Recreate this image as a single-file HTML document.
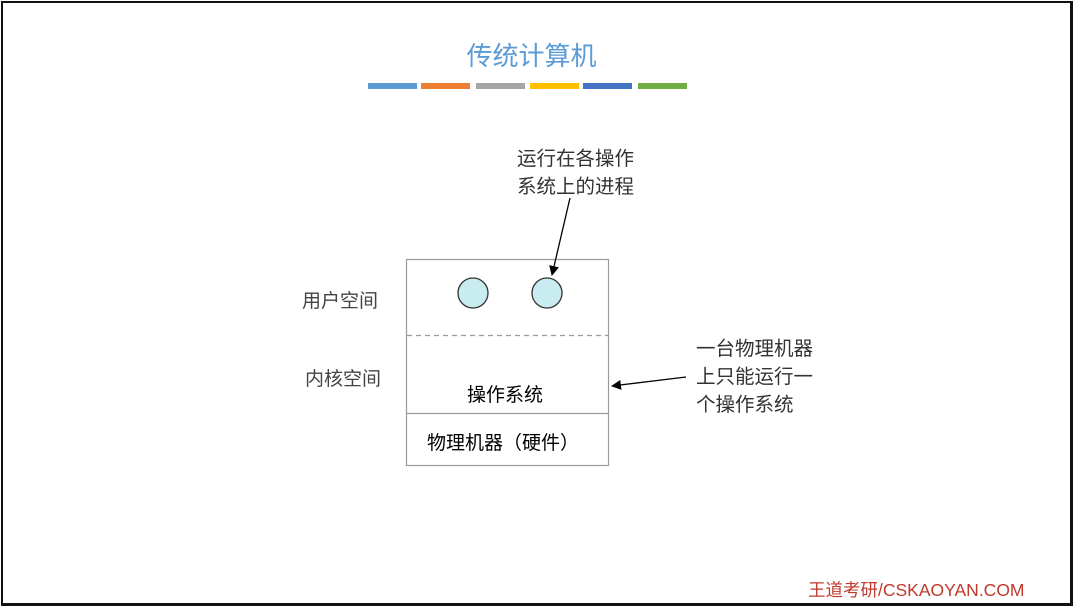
<!DOCTYPE html>
<html><head><meta charset="utf-8"><style>
html,body{margin:0;padding:0;background:#fff;}
body{width:1073px;height:608px;position:relative;overflow:hidden;font-family:"Liberation Sans","Noto Sans CJK SC",sans-serif;}
.t{position:absolute;white-space:nowrap;}
</style></head><body>
<div style="position:absolute;left:1px;top:1px;width:1067px;height:600px;border:2px solid #111;border-bottom-width:3px;border-right-width:3px;"></div>
<div class="t" style="left:0;width:1063px;text-align:center;top:36px;font-size:26px;color:#5b9bd5;">传统计算机</div>
<div style="position:absolute;top:83px;left:368px;width:49px;height:6px;background:#5b9bd5"></div>
<div style="position:absolute;top:83px;left:421px;width:49px;height:6px;background:#ed7d31"></div>
<div style="position:absolute;top:83px;left:476px;width:49px;height:6px;background:#a5a5a5"></div>
<div style="position:absolute;top:83px;left:530px;width:49px;height:6px;background:#ffc000"></div>
<div style="position:absolute;top:83px;left:583px;width:49px;height:6px;background:#4472c4"></div>
<div style="position:absolute;top:83px;left:638px;width:49px;height:6px;background:#70ad47"></div>
<svg width="1073" height="608" style="position:absolute;left:0;top:0">
<defs><marker id="a" markerWidth="10" markerHeight="10" refX="9" refY="5" orient="auto" markerUnits="userSpaceOnUse"><path d="M0,0 L10,5 L0,10 z" fill="#000"/></marker></defs>
<rect x="406.5" y="259.5" width="202" height="206" fill="none" stroke="#999" stroke-width="1.2"/>
<line x1="407" y1="335.5" x2="608" y2="335.5" stroke="#999" stroke-width="1.2" stroke-dasharray="5,4"/>
<line x1="407" y1="413.5" x2="608" y2="413.5" stroke="#999" stroke-width="1.2"/>
<circle cx="473" cy="293" r="15" fill="#c8ecef" stroke="#333" stroke-width="1.3"/>
<circle cx="547" cy="293" r="15" fill="#c8ecef" stroke="#333" stroke-width="1.3"/>
<line x1="570" y1="198" x2="552" y2="275" stroke="#000" stroke-width="1.3" marker-end="url(#a)"/>
<line x1="686" y1="377" x2="612" y2="386" stroke="#000" stroke-width="1.3" marker-end="url(#a)"/>
</svg>
<div class="t" style="left:517px;top:145px;font-size:19.5px;line-height:28px;color:#333;">运行在各操作<br>系统上的进程</div>
<div class="t" style="left:302px;top:286px;font-size:19px;color:#444;">用户空间</div>
<div class="t" style="left:305px;top:364px;font-size:19px;color:#444;">内核空间</div>
<div class="t" style="left:467px;top:380px;font-size:19px;color:#000;">操作系统</div>
<div class="t" style="left:427px;top:428px;font-size:19px;color:#000;">物理机器（硬件）</div>
<div class="t" style="left:696px;top:335px;font-size:19.5px;line-height:28px;color:#333;">一台物理机器<br>上只能运行一<br>个操作系统</div>
<div class="t" style="left:808px;top:577px;font-size:17.5px;color:#c0392b;">王道考研/CSKAOYAN.COM</div>
</body></html>
